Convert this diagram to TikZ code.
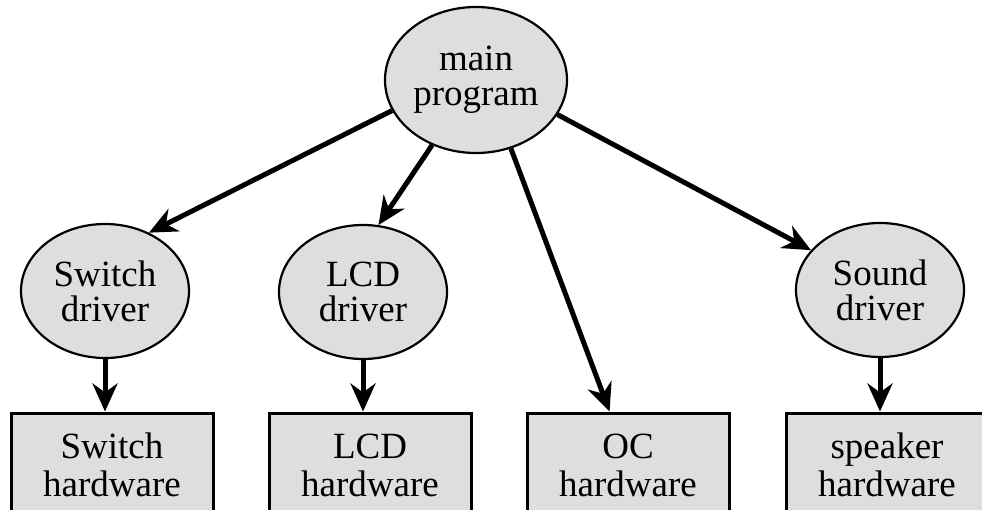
\documentclass[tikz,border=0pt]{standalone}
\usepackage{fontspec}
\setmainfont{Liberation Serif}
\usetikzlibrary{shapes.geometric,arrows.meta}
\definecolor{boxgray}{gray}{0.87}
\begin{document}
\begin{tikzpicture}[x=1pt,y=-1pt,
  driver/.style={ellipse, draw, line width=2.2pt, fill=boxgray, inner sep=0pt,
    minimum width=168pt, minimum height=134pt, align=center,
    font=\fontsize{37}{35}\selectfont},
  hw/.style={rectangle, draw, line width=3pt, fill=boxgray, inner sep=0pt,
    minimum width=202pt, minimum height=104pt, align=center,
    font=\fontsize{37}{38}\selectfont},
  link/.style={line width=5pt, -{Stealth[length=28pt,width=25pt,inset=9pt]}}]
\clip (0,0) rectangle (982,510);

% Draw main program
\node[driver, minimum width=182pt, minimum height=146pt] (main) at (476,80) {main\\program};

% Draw drivers
\node[driver] (swdrv) at (105,291) {Switch\\driver};
\node[driver] (lcddrv) at (363,292) {LCD\\driver};
\node[driver] (snddrv) at (880,290) {Sound\\driver};

% Draw hardware
\node[hw] (swhw) at (112,465) {Switch\\hardware};
\node[hw] (lcdhw) at (370,465) {LCD\\hardware};
\node[hw] (ochw) at (628,465) {OC\\hardware};
\node[hw] (spkhw) at (887,465) {speaker\\hardware};

% Arrows
\draw[link] (main.200) -- (swdrv.53);
\draw[link] (main.236) -- (lcddrv.77);
\draw[link] (main.297) -- (ochw.109);
\draw[link] (main.337) -- (snddrv.150);
\draw[link] (swdrv.south) -- (swdrv.south |- swhw.north);
\draw[link] (lcddrv.south) -- (lcddrv.south |- lcdhw.north);
\draw[link] (snddrv.south) -- (snddrv.south |- spkhw.north);
\end{tikzpicture}
\end{document}
